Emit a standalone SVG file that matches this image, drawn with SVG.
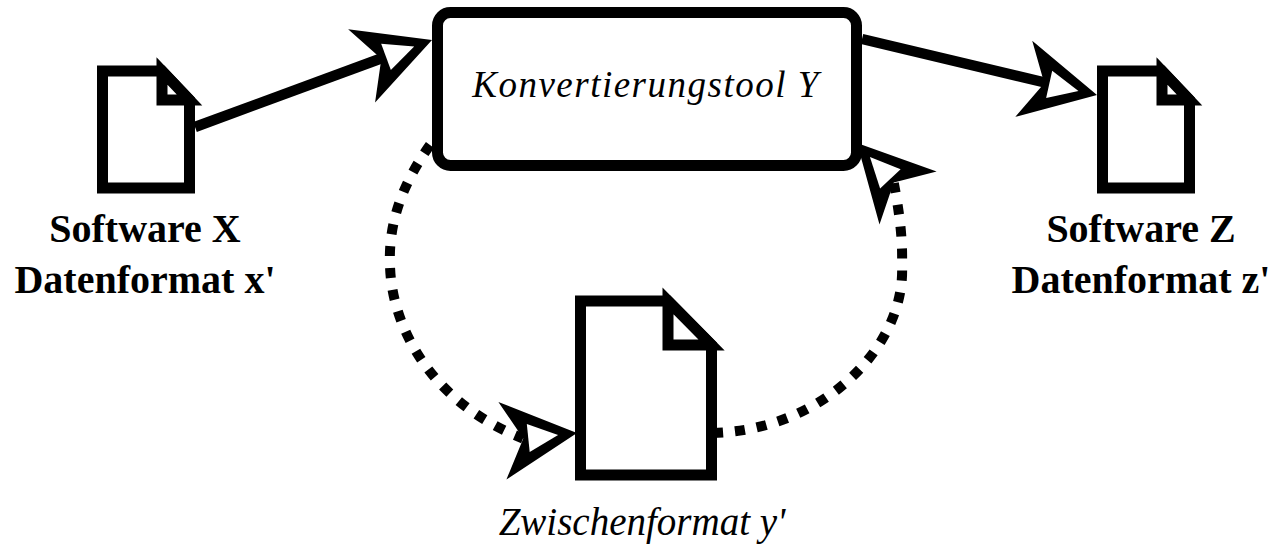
<svg xmlns="http://www.w3.org/2000/svg" xmlns:xlink="http://www.w3.org/1999/xlink" width="1278" height="544" viewBox="0 0 1278 544">
  <style>
    .shape { fill: #ffffff; stroke: #000000; stroke-width: 11; stroke-linejoin: miter; stroke-miterlimit: 4; }
    .line { fill: none; stroke: #000000; stroke-width: 10.5; stroke-linecap: butt; }
    .dotted { fill: none; stroke: #000000; stroke-width: 10; stroke-dasharray: 10 12; stroke-linecap: butt; }
    .ah-o { fill: #000000; stroke: none; }
    .ah-i { fill: #ffffff; stroke: none; }
    .lbl { font-family: "Liberation Serif", "Times New Roman", serif; font-weight: bold; font-size: 40px; fill: #000000; text-anchor: middle; }
    .ital { font-family: "Liberation Serif", "Times New Roman", serif; font-style: italic; fill: #000000; text-anchor: middle; }
  </style>
  <defs>
    <g id="ah">
      <path class="ah-o" d="M0,0 L-75,-39 L-54,0 L-75,39 Z"/>
      <path class="ah-i" d="M-19,0 L-49,-14 L-49,14 Z"/>
    </g>
    <g id="doc">
      <path class="shape" d="M0,0 H59.5 L87,29 V117 H0 Z"/>
      <path class="shape" d="M59.5,0 V29 H87 Z"/>
    </g>
  </defs>
  <rect width="1278" height="544" fill="#ffffff"/>

  <g id="node-software-x">
    <use xlink:href="#doc" href="#doc" transform="translate(102.5,71)"/>
    <text class="lbl" x="145" y="242">Software X</text>
    <text class="lbl" x="145" y="293">Datenformat x'</text>
  </g>

  <g id="node-tool-y">
    <rect class="shape" x="437.5" y="12.5" width="419" height="153" rx="13" ry="13"/>
    <text class="ital" x="646" y="97" font-size="37" letter-spacing="1.5">Konvertierungstool Y</text>
  </g>

  <g id="node-software-z">
    <use xlink:href="#doc" href="#doc" transform="translate(1102.5,71)"/>
    <text class="lbl" x="1141" y="242">Software Z</text>
    <text class="lbl" x="1141" y="293">Datenformat z'</text>
  </g>

  <g id="node-zwischenformat">
    <path class="shape" d="M580.5,301 H668 L711.5,345 V475 H580.5 Z"/>
    <path class="shape" d="M668,301 V345 H711.5 Z"/>
    <text class="ital" x="642" y="535" font-size="39">Zwischenformat y'</text>
  </g>

  <g id="connectors">
    <line class="line" x1="195" y1="127" x2="404" y2="50"/>
    <line class="line" x1="862" y1="39" x2="1068" y2="88"/>
    <path class="dotted" d="M430,145 C405,180 388,220 390,265 C391,320 425,400 523,438.5"/>
    <path class="dotted" d="M713,433 C825,430 906,345 902,265 C903,235 898,205 893.7,182.4"/>
    <use xlink:href="#ah" href="#ah" transform="translate(432,40) rotate(-20.2)"/>
    <use xlink:href="#ah" href="#ah" transform="translate(1097,95) rotate(12.5)"/>
    <use xlink:href="#ah" href="#ah" transform="translate(577,433) rotate(-5.9)"/>
    <use xlink:href="#ah" href="#ah" transform="translate(857,143) rotate(-132.9)"/>
  </g>
</svg>
